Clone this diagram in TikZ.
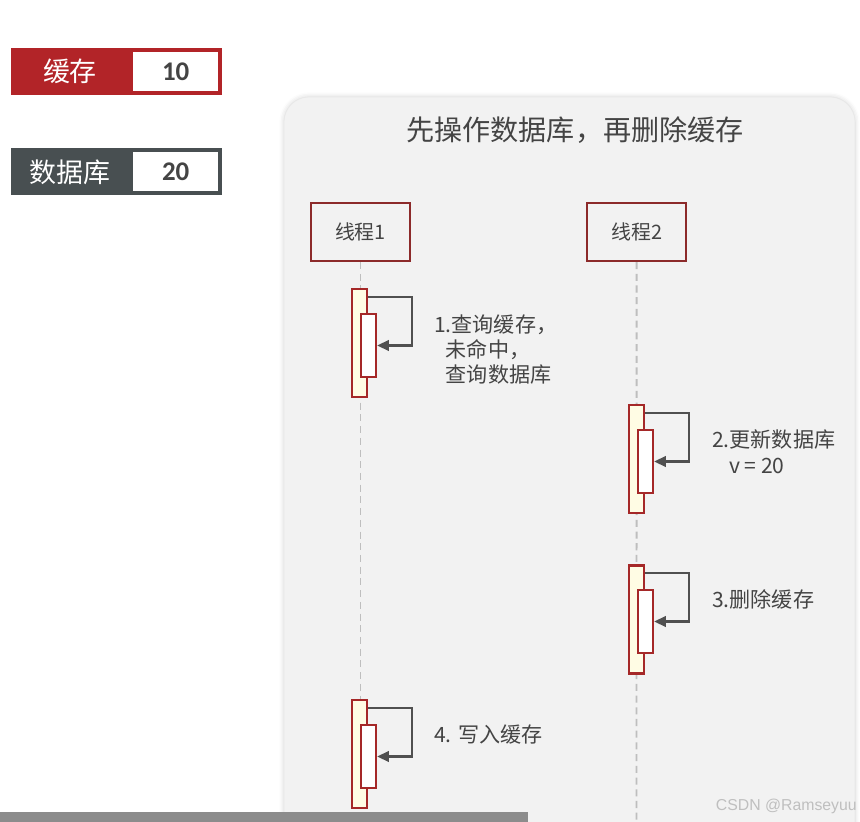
\documentclass[tikz,border=0pt]{standalone}
\usepackage{fontspec}
\setmainfont{Noto Sans CJK SC}
\newfontfamily\numfont{Carlito}
\newfontfamily\markfont{Liberation Sans}
\usepackage{tikz}
\usetikzlibrary{arrows.meta, positioning, shadows.blur}
\definecolor{CacheRed}{RGB}{178, 36, 40}
\definecolor{DbGray}{RGB}{72, 79, 81}
\definecolor{ThreadRed}{RGB}{140, 42, 42}
\definecolor{BarRed}{RGB}{165, 40, 40}
\definecolor{BarYellow}{RGB}{255, 252, 228}
\definecolor{PanelGray}{RGB}{242, 242, 242}
\definecolor{TextGray}{RGB}{68, 68, 68}
\definecolor{ArrowGray}{RGB}{80, 80, 80}
\definecolor{LineGray}{RGB}{190, 190, 190}
\tikzset{
  tagbox/.style={rectangle, minimum width=3.54cm, minimum height=1.41cm,
    inner sep=0pt, text=white, font=\fontsize{23}{26}\selectfont},
  valbox/.style={rectangle, minimum width=2.67cm, minimum height=1.29cm,
    inner sep=0pt, fill=white, line width=3.4pt, text=TextGray,
    font=\numfont\bfseries\fontsize{23}{26}\selectfont},
  panel/.style={rounded corners=0.75cm, fill=PanelGray, draw=black!9,
    line width=0.6pt},
  thread/.style={rectangle, minimum width=2.97cm, minimum height=1.74cm,
    draw=ThreadRed, line width=1.8pt, fill=PanelGray, text=TextGray,
    font=\fontsize{17}{20}\selectfont},
  actbar/.style={rectangle, minimum width=0.45cm, minimum height=3.24cm,
    inner sep=0pt, draw=BarRed, line width=2pt, fill=BarYellow},
  subbar/.style={actbar, minimum height=1.89cm, fill=white},
  selfarr/.style={-{Triangle[length=10pt,width=9pt]}, line width=2pt,
    color=ArrowGray},
  lifeline/.style={dash pattern=on 6pt off 4pt, line width=1.6pt,
    color=LineGray},
  steplbl/.style={anchor=west, inner sep=0pt, align=left, text=TextGray,
    font=\fontsize{18}{21}\selectfont},
}
\begin{document}
\begin{tikzpicture}[x=0.03cm, y=-0.03cm]
  \useasboundingbox (0,0) rectangle (860,822);
  \clip (0,0) rectangle (860,822);
  % legend
  \node[tagbox, fill=CacheRed] (cache) at (70,71.5) {缓存};
  \node[valbox, draw=CacheRed, right=0pt of cache] (cacheval) {10};
  \node[tagbox, fill=DbGray, below=1.59cm of cache] (db) {数据库};
  \node[valbox, draw=DbGray, right=0pt of db] (dbval) {20};
  % panel
  \draw[panel, blur shadow={shadow xshift=0pt, shadow yshift=0pt,
        shadow blur radius=4pt, shadow opacity=18}] (284,97) rectangle (855,880);
  \node[text=TextGray, font=\fontsize{24}{28}\selectfont] (title) at (575,130)
    {先操作数据库，再删除缓存};
  \node[thread] (t1) at (360.5,232) {线程1};
  \node[thread, right=5.25cm of t1] (t2) {线程2};
  \coordinate (e1) at (360.5,830);
  \coordinate (e2) at (636.5,830);
  \draw[lifeline] (t1) -- (e1);
  \draw[lifeline] (t2) -- (e2);
  % activations
  \node[actbar] (a1) at (359.5,343) {};
  \node[subbar] (b1) at (368.5,345.5) {};
  \node[actbar] (a2) at (636.5,459) {};
  \node[subbar] (b2) at (645.5,461.5) {};
  \node[actbar] (a3) at (636.5,619.5) {};
  \node[subbar] (b3) at (645.5,621.5) {};
  \node[actbar] (a4) at (359.5,754) {};
  \node[subbar] (b4) at (368.5,756.5) {};
  \draw[selfarr] ([yshift=-0.27cm]a1.north east) -- ++(44,0) |- (b1.east);
  \draw[selfarr] ([yshift=-0.27cm]a2.north east) -- ++(44,0) |- (b2.east);
  \draw[selfarr] ([yshift=-0.27cm]a3.north east) -- ++(44,0) |- (b3.east);
  \draw[selfarr] ([yshift=-0.27cm]a4.north east) -- ++(44,0) |- (b4.east);
  \node[steplbl] (l1) at (434,349.5)
    {1.查询缓存，\\\hspace*{0.55em}未命中，\\\hspace*{0.55em}查询数据库};
  \node[steplbl, font=\fontsize{18}{22}\selectfont] (l2) at (712,452)
    {2.更新数据库\\\hspace*{0.8em}v = 20};
  \node[steplbl] (l3) at (712,599) {3.删除缓存};
  \node[steplbl] (l4) at (434,735) {4. 写入缓存};
  % screenshot leftovers
  \node[anchor=east, inner sep=0pt, text=black!25, font=\markfont\fontsize{13.5}{15}\selectfont]
    (mark) at (857,806) {CSDN @Ramseyuu};
  \fill[black!45] (0,812) rectangle (528,822);
\end{tikzpicture}
\end{document}
